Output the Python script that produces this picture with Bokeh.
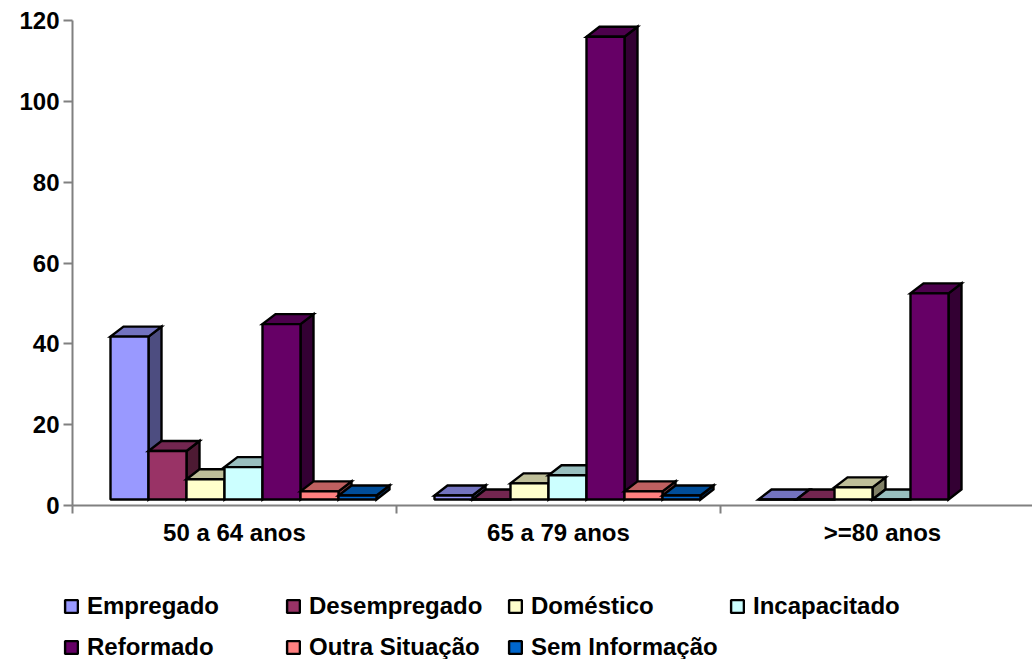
from bokeh.plotting import figure
from bokeh.embed import file_html
from bokeh.resources import INLINE
from bokeh.models import FixedTicker, Legend, LegendItem, Range1d

categories = ["50 a 64 anos", "65 a 79 anos", ">=80 anos"]
y_ticks = [0, 20, 40, 60, 80, 100, 120]

empregado = [40.3, 1, 0]
desempregado = [12, 0, 0]
domestico = [5, 4, 3]
incapacitado = [8, 6, 0]
reformado = [43.4, 114.5, 51]
outra = [2, 2, 0]
sem_info = [1, 1, 0]

series = [
    ("Empregado", empregado, "#9999FF", "#7373BF", "#4D4D80"),
    ("Desempregado", desempregado, "#993366", "#732650", "#4D1A33"),
    ("Doméstico", domestico, "#FFFFCC", "#BFBF99", "#808066"),
    ("Incapacitado", incapacitado, "#CCFFFF", "#99BFBF", "#668080"),
    ("Reformado", reformado, "#660066", "#4D004D", "#330033"),
    ("Outra Situação", outra, "#FF8080", "#BF6060", "#804040"),
    ("Sem Informação", sem_info, "#0066CC", "#004D99", "#003366"),
]

FONT = "Liberation Sans"
W, H = 1032, 659
LEFT, TOP, ZERO = 72, 20, 505
KY = 120 / (ZERO - TOP)
KX = 1 / 324
BAR_W = 38 * KX
DX = 13 * KX
DY = 10 * KY
BASE = 6 * KY

p = figure(width=W, height=H,
           x_range=Range1d(-LEFT * KX, (W - LEFT) * KX),
           y_range=Range1d(-(H - ZERO) * KY, 120 + TOP * KY),
           output_backend="svg", toolbar_location=None,
           min_border_left=0, min_border_top=0, min_border_right=0, min_border_bottom=0)
p.outline_line_color = None
p.grid.visible = False
p.background_fill_color = "white"

items = []
for i, (name, vals, front, top_c, side) in enumerate(series):
    xs, tops = [], []
    tx, ty, sx, sy = [], [], [], []
    for g, v in enumerate(vals):
        if v == 0 and i >= 5:
            continue
        x0 = g + (1 + i) * BAR_W
        x1 = x0 + BAR_W
        t = BASE + v
        xs.append((x0 + x1) / 2)
        tops.append(t)
        tx.append([x0, x1, x1 + DX, x0 + DX])
        ty.append([t, t, t + DY, t + DY])
        sx.append([x1, x1 + DX, x1 + DX, x1])
        sy.append([BASE, BASE + DY, t + DY, t])
    p.patches(sx, sy, fill_color=side, line_color="black", line_width=2.4, line_join="miter")
    p.patches(tx, ty, fill_color=top_c, line_color="black", line_width=2.4, line_join="miter")
    r = p.vbar(x=xs, top=tops, bottom=BASE, width=BAR_W, fill_color=front,
               line_color="black", line_width=2.4)
    items.append(LegendItem(label=name, renderers=[r]))

ax = p.xaxis[0]
ax.fixed_location = 0
ax.bounds = (0, (W - LEFT) * KX)
ax.ticker = FixedTicker(ticks=[0.5, 1.5, 2.5], minor_ticks=[0, 1, 2])
ax.major_label_overrides = {0.5: categories[0], 1.5: categories[1], 2.5: categories[2]}
ax.major_tick_out = 0
ax.major_tick_in = 0
ax.minor_tick_out = 8
ax.minor_tick_in = 0
ax.minor_tick_line_color = "#808080"
ax.minor_tick_line_width = 2
ax.axis_line_color = "#808080"
ax.axis_line_width = 2
ax.major_label_text_font = FONT
ax.major_label_text_font_style = "bold"
ax.major_label_text_font_size = "24px"
ax.major_label_text_color = "black"
ax.major_label_standoff = 5

ay = p.yaxis[0]
ay.fixed_location = 0
ay.bounds = (0, 120)
ay.ticker = FixedTicker(ticks=y_ticks, minor_ticks=[])
ay.major_tick_out = 9
ay.major_tick_in = 0
ay.major_tick_line_color = "#808080"
ay.major_tick_line_width = 2
ay.axis_line_color = "#808080"
ay.axis_line_width = 2
ay.major_label_text_font = FONT
ay.major_label_text_font_style = "bold"
ay.major_label_text_font_size = "24px"
ay.major_label_text_color = "black"
ay.major_label_standoff = 4

legend = Legend(items=items, ncols=4, location=(63, -3), orientation="horizontal",
                background_fill_alpha=0, border_line_color=None,
                label_text_font=FONT, label_text_font_style="bold",
                label_text_font_size="24px", label_text_color="black",
                glyph_width=16, glyph_height=16, label_standoff=8,
                label_width=187, label_height=30, spacing=11, padding=0, margin=0)
p.add_layout(legend, "center")

open("out.html", "w").write(file_html(p, INLINE))
